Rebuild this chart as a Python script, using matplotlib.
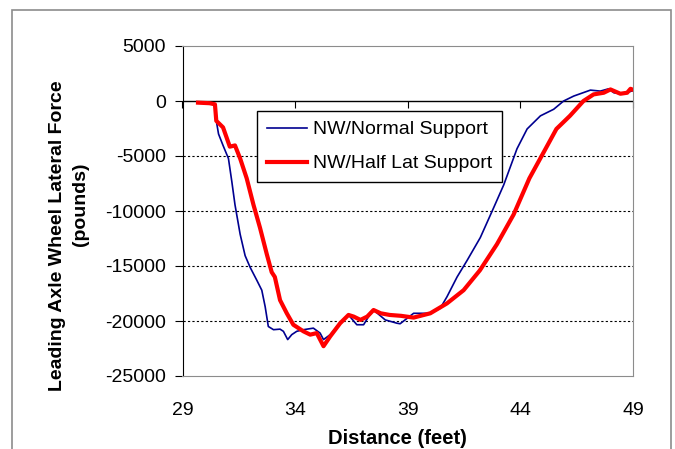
import matplotlib.pyplot as plt
import matplotlib.patches as mpatches

plt.rcParams['font.family'] = ['Liberation Sans', 'DejaVu Sans']

# distance (feet) and leading axle lateral force (pounds)
normal_x = [29.69, 30.44, 30.5, 30.6, 30.8, 31.04, 31.19, 31.33, 31.56, 31.78,
            32.0, 32.3, 32.52, 32.67, 32.81, 33.04, 33.33, 33.48, 33.67, 33.85,
            34.07, 34.37, 34.81, 35.11, 35.26, 35.56, 36.0, 36.37, 36.74, 37.04,
            37.26, 37.48, 38.0, 38.52, 38.66, 39.26, 40.0, 40.44, 40.74, 41.19,
            41.63, 42.22, 42.81, 43.26, 43.85, 44.3, 44.89, 45.48, 45.92, 46.37,
            47.11, 47.55, 47.92, 48.15, 48.44, 48.74, 49.03]
normal_y = [-150, -300, -1800, -3000, -4040, -5230, -7330, -9430, -12120, -14060,
            -15110, -16300, -17200, -18700, -20500, -20790, -20740, -20940, -21690, -21240,
            -20940, -20790, -20650, -21100, -21690, -21240, -20200, -19450, -20340, -20340,
            -19600, -19000, -19900, -20200, -20250, -19300, -19300, -18850, -17800, -16000,
            -14510, -12420, -9720, -7630, -4340, -2540, -1350, -750, 0, 450,
            990, 900, 1110, 750, 660, 750, 990]

half_x = [29.69, 30.2, 30.44, 30.5, 30.8, 31.1, 31.33, 31.56, 31.85, 32.15,
          32.44, 32.74, 32.96, 33.1, 33.33, 33.63, 33.92, 34.37, 34.67, 34.96,
          35.26, 35.56, 36.0, 36.37, 36.6, 36.9, 37.2, 37.48, 37.8, 38.2,
          38.7, 39.26, 40.0, 40.74, 41.48, 42.2, 42.96, 43.7, 44.4, 45.2,
          45.6, 46.2, 46.8, 47.25, 47.7, 48.0, 48.44, 48.74, 48.89, 49.03]
half_y = [-150, -200, -300, -1800, -2400, -4150, -4040, -5230, -7030, -9430,
          -11520, -13910, -15560, -16000, -18100, -19300, -20340, -20940, -21240, -21100,
          -22290, -21390, -20200, -19450, -19600, -19900, -19600, -19000, -19300, -19450,
          -19530, -19690, -19300, -18400, -17200, -15400, -13020, -10320, -7030, -4040,
          -2540, -1350, 0, 600, 750, 1050, 660, 750, 1110, 990]

x_ticks = [29, 34, 39, 44, 49]
y_ticks = [5000, 0, -5000, -10000, -15000, -20000, -25000]
grid_levels = [-5000, -10000, -15000, -20000]

W, H = 675, 449
fig = plt.figure(figsize=(W / 100, H / 100), dpi=100)

# grey frame round the whole chart
fig.patches.append(mpatches.Rectangle((12 / W, -0.05), (671 - 12) / W, (H - 10) / H + 0.05,
                                      transform=fig.transFigure, fill=False,
                                      edgecolor='#8c8c8c', lw=1.2))

ax = fig.add_axes([182.5 / W, 1 - 376 / H, (633 - 182.5) / W, (376 - 46) / H])

for lev in grid_levels:
    ax.axhline(lev, color='black', lw=0.8, ls=(0, (2, 2)), zorder=1)
ax.axhline(0, color='black', lw=1.0, zorder=2)

ax.plot(normal_x, normal_y, color='#000090', lw=1.2, label='NW/Normal Support', zorder=3)
ax.plot(half_x, half_y, color='#ff0000', lw=3.0, label='NW/Half Lat Support', zorder=4)

ax.set_xlim(29, 49)
ax.set_ylim(-25000, 5000)
ax.set_xticks(x_ticks)
ax.set_yticks(y_ticks)
ax.set_yticklabels([str(v) for v in y_ticks])

for side in ['top', 'right', 'bottom']:
    ax.spines[side].set_color('#8c8c8c')
ax.spines['left'].set_color('black')
ax.tick_params(axis='x', length=0, labelsize=14, pad=19)
ax.tick_params(axis='y', direction='out', length=6, labelsize=14, pad=6)

# tick marks of the horizontal axis sit on the zero line
sec = ax.secondary_xaxis(25000 / 30000)
sec.set_xticks(x_ticks)
sec.tick_params(direction='out', length=5, labelbottom=False, labeltop=False,
                top=False, bottom=True)
sec.spines['top'].set_visible(False)
sec.spines['bottom'].set_visible(False)

ax.set_xlabel('Distance (feet)', fontsize=14.5, fontweight='bold')
ax.xaxis.set_label_coords(0.476, -0.16)

# two-line y title, second line sits a little higher than the first one
fig.text(57 / W, 1 - 236 / H, 'Leading Axle Wheel Lateral Force', rotation=90,
         ha='center', va='center', fontsize=14, fontweight='bold')
fig.text(81 / W, 1 - 204 / H, '(pounds)', rotation=90,
         ha='center', va='center', fontsize=14, fontweight='bold')

leg = ax.legend(loc='upper left', bbox_to_anchor=(0.165, 0.803), borderaxespad=0,
                fontsize=14, fancybox=False, framealpha=1, edgecolor='black',
                handlelength=2.1, borderpad=0.5, labelspacing=0.85, handletextpad=0.3)
leg.get_frame().set_linewidth(1.0)

fig.savefig('out.png', dpi=100)
